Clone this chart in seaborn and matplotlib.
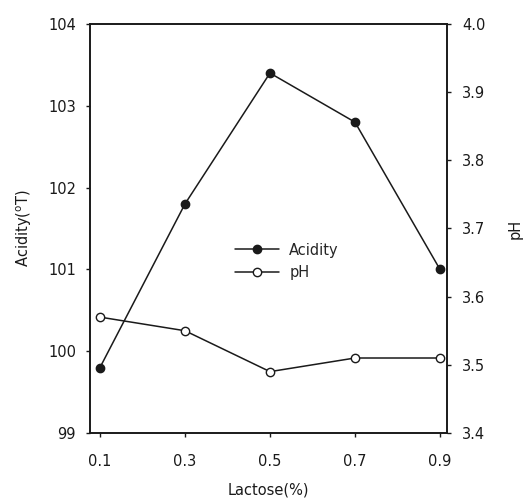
import matplotlib
matplotlib.use("Agg")
import matplotlib.pyplot as plt
from matplotlib.lines import Line2D
import seaborn as sns
import pandas as pd

sns.set_theme(style="white")
plt.rcParams["font.family"] = ["DejaVu Sans"]

lactose = [0.1, 0.3, 0.5, 0.7, 0.9]
acidity = [99.8, 101.8, 103.4, 102.8, 101.0]
ph = [3.57, 3.55, 3.49, 3.51, 3.51]
x_ticks = [0.1, 0.3, 0.5, 0.7, 0.9]
x_ticklabels = ["0.1", "0.3", "0.5", "0.7", "0.9"]
acid_ticks = [99, 100, 101, 102, 103, 104]
ph_ticks = [3.4, 3.5, 3.6, 3.7, 3.8, 3.9, 4.0]

df = pd.DataFrame({"lactose": lactose, "acidity": acidity, "ph": ph})

ink = "#1a1a1a"
fs = 10.5

fig = plt.figure(figsize=(5.25, 5.04), dpi=100)
ax = fig.add_axes([0.1714, 0.1409, 0.68, 0.8115])
ax2 = ax.twinx()

line_kw = dict(color=ink, linewidth=1.1, markersize=6, markeredgewidth=1.0)
sns.lineplot(data=df, x="lactose", y="acidity", ax=ax, marker="o",
             markerfacecolor=ink, markeredgecolor=ink, **line_kw)
sns.lineplot(data=df, x="lactose", y="ph", ax=ax2, marker="o",
             markerfacecolor="white", markeredgecolor=ink, **line_kw)

ax.set_xlim(0.0765, 0.9165)
ax.set_ylim(99, 104)
ax2.set_ylim(3.4, 4.0)
ax.set_xticks(x_ticks)
ax.set_xticklabels(x_ticklabels)
ax.set_yticks(acid_ticks)
ax.set_yticklabels([str(t) for t in acid_ticks])
ax2.set_yticks(ph_ticks)
ax2.set_yticklabels([f"{t:.1f}" for t in ph_ticks])

for a in (ax, ax2):
    for s in a.spines.values():
        s.set_color(ink)
        s.set_linewidth(1.2)
    a.tick_params(direction="out", length=3, width=1, color=ink,
                  labelsize=fs, labelcolor=ink)
    a.grid(False)
ax.tick_params(axis="y", left=True, pad=7)
ax.tick_params(axis="x", bottom=True, pad=12)
ax2.tick_params(axis="y", right=True, pad=8)

ax.set_xlabel("Lactose(%)", fontsize=fs, color=ink, labelpad=10)
ax.set_ylabel("Acidity($^{\\mathrm{o}}$T)", fontsize=fs, color=ink, labelpad=10)
ax2.set_ylabel("pH", fontsize=fs, color=ink, labelpad=16, rotation=90)

handles = [
    Line2D([], [], color=ink, linewidth=1.1, marker="o", markersize=6,
           markerfacecolor=ink, markeredgecolor=ink),
    Line2D([], [], color=ink, linewidth=1.1, marker="o", markersize=6,
           markerfacecolor="white", markeredgecolor=ink),
]
ax.legend(handles, ["Acidity", "pH"], loc="center left",
          bbox_to_anchor=(0.37, 0.42), frameon=False, fontsize=fs,
          handlelength=3.0, handletextpad=0.7, labelspacing=0.5)

fig.savefig("out.png", dpi=100)
